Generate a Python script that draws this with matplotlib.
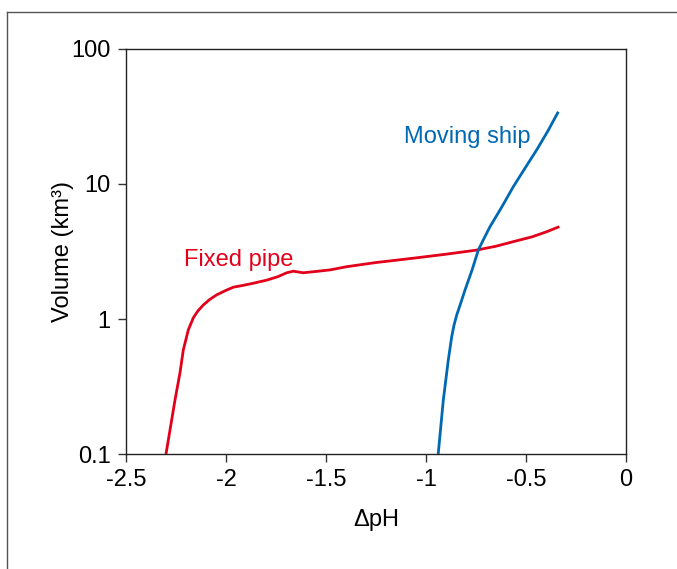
import matplotlib
matplotlib.use("Agg")
import matplotlib.pyplot as plt
from matplotlib.lines import Line2D
from matplotlib.ticker import FixedLocator, NullLocator, FixedFormatter

plt.rcParams["font.family"] = ["Liberation Sans", "DejaVu Sans"]

# Fixed pipe (red)
pipe_ph = [-2.30, -2.255, -2.23, -2.2135, -2.1885, -2.1635, -2.14, -2.1135, -2.08,
           -2.0465, -2.00, -1.9635, -1.91, -1.8635, -1.7965, -1.74, -1.6965, -1.6635,
           -1.6135, -1.55, -1.48, -1.3965, -1.25, -1.0635, -0.90, -0.7465, -0.65,
           -0.5635, -0.47, -0.3965, -0.3335]
pipe_vol = [0.10, 0.251, 0.40, 0.589, 0.83, 1.02, 1.15, 1.27, 1.40,
            1.51, 1.63, 1.72, 1.78, 1.84, 1.94, 2.06, 2.20, 2.26,
            2.20, 2.25, 2.31, 2.44, 2.62, 2.82, 3.02, 3.24, 3.46,
            3.74, 4.06, 4.43, 4.83]

# Moving ship (blue)
ship_ph = [-0.939, -0.9135, -0.8885, -0.8715, -0.86, -0.8465, -0.825, -0.805, -0.77,
           -0.7385, -0.71, -0.68, -0.62, -0.5635, -0.505, -0.4465, -0.39, -0.3385]
ship_vol = [0.10, 0.251, 0.497, 0.74, 0.90, 1.07, 1.33, 1.64, 2.30,
            3.24, 3.95, 4.83, 6.80, 9.55, 13.1, 17.9, 24.8, 34.3]

x_ticks = [-2.5, -2, -1.5, -1, -0.5, 0]
x_labels = ["-2.5", "-2", "-1.5", "-1", "-0.5", "0"]
y_ticks = [0.1, 1, 10, 100]
y_labels = ["0.1", "1", "10", "100"]

RED = "#e2001a"
BLUE = "#0069b4"
FS = 17

fig = plt.figure(figsize=(6.77, 5.69), dpi=100)
ax = fig.add_axes([0.1861, 0.2021, 0.7386, 0.7118])

ax.plot(pipe_ph, pipe_vol, color=RED, lw=2.0, solid_capstyle="butt", solid_joinstyle="round")
ax.plot(ship_ph, ship_vol, color=BLUE, lw=2.0, solid_capstyle="butt", solid_joinstyle="round")

ax.set_yscale("log")
ax.set_xlim(-2.5, 0)
ax.set_ylim(0.1, 100)

ax.xaxis.set_major_locator(FixedLocator(x_ticks))
ax.xaxis.set_major_formatter(FixedFormatter(x_labels))
ax.yaxis.set_major_locator(FixedLocator(y_ticks))
ax.yaxis.set_major_formatter(FixedFormatter(y_labels))
ax.yaxis.set_minor_locator(NullLocator())
ax.xaxis.set_minor_locator(NullLocator())

ax.tick_params(direction="out", length=6, width=1, labelsize=FS, pad=5, color="#333333")
for s in ax.spines.values():
    s.set_linewidth(1)
    s.set_color("#222222")

ax.set_xlabel("ΔpH", fontsize=FS, labelpad=13)
ax.set_ylabel("Volume (km³)", fontsize=FS, labelpad=-2)

ax.text(-2.21, 2.73, "Fixed pipe", color=RED, fontsize=FS, va="center", ha="left")
ax.text(-1.11, 22.3, "Moving ship", color=BLUE, fontsize=FS, va="center", ha="left")

# partial outer frame (top and left edges)
fig.add_artist(Line2D([7 / 677, 1], [1 - 12 / 569, 1 - 12 / 569], color="#555555", lw=1))
fig.add_artist(Line2D([7 / 677, 7 / 677], [0, 1 - 12 / 569], color="#555555", lw=1))

fig.savefig("out.png", dpi=100)
